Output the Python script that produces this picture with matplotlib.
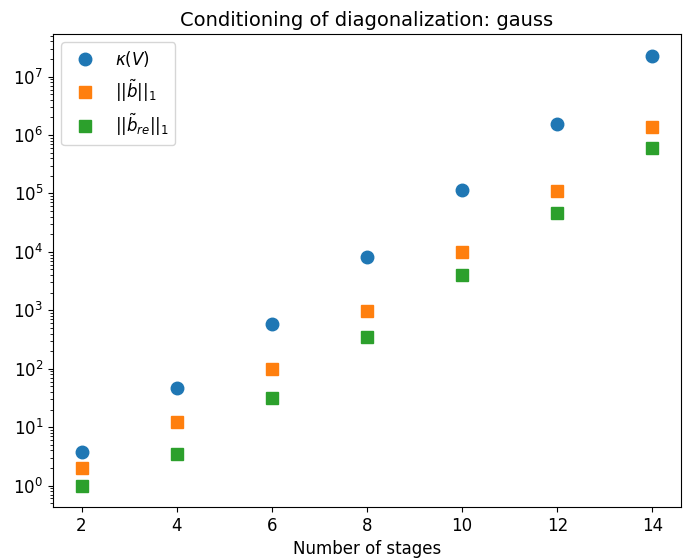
import numpy as np
import matplotlib
matplotlib.use("Agg")
from matplotlib import pyplot as plt

stages = [2, 4, 6, 8, 10, 12, 14]
kappa_V = [3.7, 46, 590, 8300, 1.15e5, 1.55e6, 2.3e7]
b_norm = [2.0, 12.3, 100, 980, 1.0e4, 1.12e5, 1.35e6]
b_re_norm = [1.0, 3.4, 31, 350, 4.0e3, 4.7e4, 5.9e5]

plt.rcParams['font.size'] = 12

fig = plt.figure(figsize=(6.83, 5.6), dpi=100)
ax = fig.add_axes([53/683, 1 - 507/560, 628/683, 473/560])

ax.semilogy(stages, kappa_V, 'o', ms=9, label=r'$\kappa(V)$')
ax.semilogy(stages, b_norm, 's', ms=9, label=r'$||\tilde{b}||_1$')
ax.semilogy(stages, b_re_norm, 's', ms=9, label=r'$||\tilde{b}_{re}||_1$')

ax.set_xlabel('Number of stages')
ax.set_title('Conditioning of diagonalization: gauss', fontsize=14)
ax.legend(loc='upper left')

fig.savefig('out.png', dpi=100)
